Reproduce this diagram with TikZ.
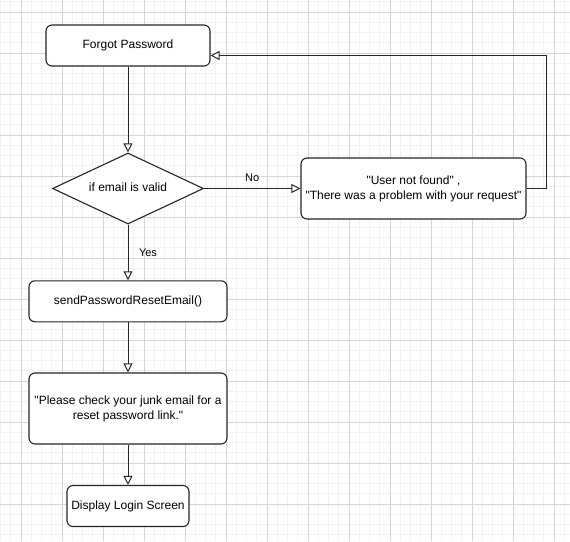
\documentclass[tikz,border=0pt]{standalone}
\usepackage{fontspec}
\setmainfont{Liberation Sans}
\usetikzlibrary{arrows.meta,shapes.geometric}
\definecolor{minorc}{HTML}{F2F2F2}
\definecolor{majorc}{HTML}{D6D6D6}
\definecolor{strokec}{HTML}{262626}
\newcommand{\q}{\textquotedbl}
\tikzset{
  minorgrid/.style={draw=minorc, line width=0.7pt},
  majorgrid/.style={draw=majorc, line width=0.7pt},
  box/.style={draw=strokec, fill=white, line width=1.1pt, rounded corners=6pt, align=center, inner sep=0pt, font=\fontsize{12}{14.8}\selectfont},
  decision/.style={draw=strokec, fill=white, line width=1.1pt, diamond, aspect=2.1, inner sep=0pt, font=\fontsize{12}{14.8}\selectfont},
  conn/.style={draw=strokec, line width=1pt, -{Triangle[open, length=9pt, width=9pt, fill=white]}},
  lbl/.style={font=\fontsize{11}{13}\selectfont, inner sep=0pt}
}
\begin{document}
\begin{tikzpicture}[x=1pt, y=-1pt]
\useasboundingbox (0,0) rectangle (570,541);
\fill[white] (0,0) rectangle (570,541);
% grid
\foreach \i in {0,...,55} { \draw[minorgrid] ({0.5+10.25*\i},0) -- ++(0,541); }
\foreach \i in {0,...,52} { \draw[minorgrid] (0,{1.75+10.25*\i}) -- ++(570,0); }
\foreach \i in {0,...,13} { \draw[majorgrid] ({21+41*\i},0) -- ++(0,541); }
\foreach \i in {0,...,13} { \draw[majorgrid] (0,{12+41*\i}) -- ++(570,0); }
% nodes
\node[box, minimum width=164pt, minimum height=41pt] (fp) at (128,45.5) {Forgot Password};
\node[decision, minimum width=151pt, minimum height=71pt] (dia) at (128,188.5) {\raisebox{3pt}{if email is valid}};
\node[box, minimum width=225pt, minimum height=61pt] (unf) at (413.5,188.5) {\q User not found\q{} ,\\\q There was a problem with your request\q};
\node[box, minimum width=198pt, minimum height=41pt] (send) at (128,301.3) {sendPasswordResetEmail()};
\node[box, minimum width=198pt, minimum height=71pt] (chk) at (128,408.5) {\q Please check your junk email for a\\reset password link.\q};
\node[box, minimum width=122pt, minimum height=41pt] (disp) at (128,506) {Display Login Screen};
% connectors
\draw[conn] (fp.south) -- (dia.north);
\draw[conn] (dia.east) -- node[lbl, above=6pt, pos=0.5] (no) {No} (unf.west);
\coordinate (c1) at (546.5,55.5);
\draw[conn] (unf.east) -| (c1) -- (fp.east |- c1);
\draw[conn] (dia.south) -- (send.north);
\node[lbl] (yes) at (148,253) {Yes};
\draw[conn] (send.south) -- (chk.north);
\draw[conn] (chk.south) -- (disp.north);
\end{tikzpicture}
\end{document}
